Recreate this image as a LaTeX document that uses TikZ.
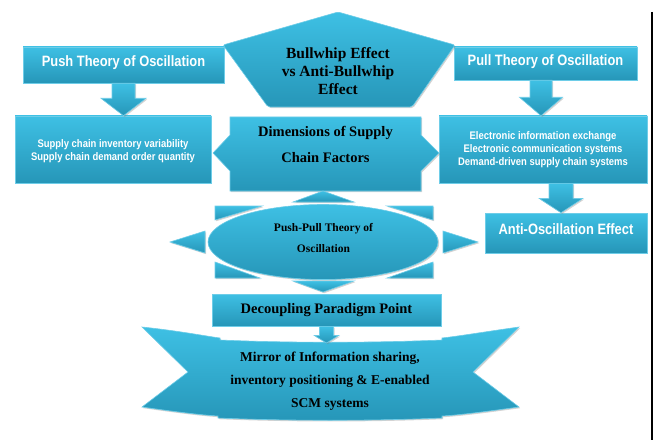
\documentclass[tikz,border=0pt]{standalone}
\usepackage{fontspec}
\setmainfont{Liberation Serif}
\newfontfamily\hsans[FakeStretch=0.86]{Liberation Sans}
\usetikzlibrary{calc,shadows,shapes.geometric}
\definecolor{ctop}{RGB}{62,192,228}
\definecolor{cbot}{RGB}{38,150,184}
\definecolor{cedge}{RGB}{110,205,232}
\tikzset{
 shp/.style={top color=ctop, bottom color=cbot, draw=cedge, line width=0.6pt,
   drop shadow={opacity=0.35,shadow xshift=1.2pt,shadow yshift=-1.2pt}},
 bx/.style={shp, rectangle, inner sep=0pt},
 wt/.style={text=white, font=\hsans\bfseries\fontsize{15}{17}\selectfont},
 ws/.style={text=white, font=\hsans\bfseries\fontsize{11}{13.3}\selectfont, align=center},
 bt/.style={text=black, align=center},
}
\newcommand{\blkarrow}[5]{\path[shp] ($(#1)+(-#3,0)$) -- ($(#1)+(#3,0)$) -- ($(#1)+(#3,#5)$) -- ($(#1)+(#4,#5)$) -- (#1 |- #2) -- ($(#1)+(-#4,#5)$) -- ($(#1)+(-#3,#5)$) -- cycle;}
\begin{document}
\begin{tikzpicture}[x=1pt,y=-1pt]
\useasboundingbox (0,0) rectangle (657,444);

% right black rule
\draw[line width=1.8pt] (652,12) -- (652,440);

% top row
\node[bx, minimum width=201pt, minimum height=36pt] (push) at (123.5,65) {};
\node[wt] (pusht) at (123.5,63) {Push Theory of Oscillation};
\node[bx, minimum width=183pt, minimum height=33pt] (pull) at (545.5,63.5) {};
\node[wt] (pullt) at (545.5,62) {Pull Theory of Oscillation};
\path[shp, rounded corners=2pt] (223,45) -- (338,12) -- (455,45) -- (412,107) -- (268,107) -- cycle;
\node[bt, font=\bfseries\fontsize{15.5}{18}\selectfont] (bw) at (338,71) {Bullwhip Effect\\vs Anti-Bullwhip\\Effect};

% second row
\node[bx, minimum width=196pt, minimum height=67pt] (lb) at (113,149.5) {};
\node[ws] (lbt) at (113,151) {Supply chain inventory variability\\Supply chain demand order quantity};
\node[bx, minimum width=208pt, minimum height=67pt, ws] (rb) at (543,149.5) {Electronic information exchange\\Electronic communication systems\\Demand-driven supply chain systems};
\path[shp] (230,117) -- (421,117) -- (421,135) -- (439,153) -- (421,171) -- (421,191) -- (230,191) -- (230,171) -- (213,153) -- (230,135) -- cycle;
\node[bt, font=\bfseries\fontsize{14.5}{26}\selectfont] (dim) at (325.5,144) {Dimensions of Supply\\Chain Factors};

% arrows from top row
\blkarrow{push.south}{lb.north}{11.5}{22.5}{15}
\coordinate (pa) at ($(pull.south)+(-4.5,0)$);
\blkarrow{pa}{rb.north}{11}{21.5}{17}

% anti-oscillation
\node[bx, minimum width=162pt, minimum height=40pt] (anti) at (566,233) {};
\node[wt] (antit) at (566,229.5) {Anti-Oscillation Effect};
\coordinate (ra) at ($(rb.south)+(18,0)$);
\blkarrow{ra}{anti.north}{12}{22}{15}

% radial triangles around ellipse
\path[shp] (293,202) -- (323,191) -- (354,202) -- cycle;
\path[shp] (293,281) -- (323,292) -- (354,281) -- cycle;
\path[shp] (205,231) -- (170,242) -- (205,253) -- cycle;
\path[shp] (443,231) -- (478,242) -- (443,253) -- cycle;
\path[shp] (215,206) -- (262,206) -- (215,220) -- cycle;
\path[shp] (433,206) -- (387,206) -- (433,220) -- cycle;
\path[shp] (215,262) -- (215,278) -- (260,278) -- cycle;
\path[shp] (433,262) -- (433,278) -- (387,278) -- cycle;
\node[shp, ellipse, minimum width=230pt, minimum height=75pt, inner sep=0pt] (pp) at (323,242) {};
\node[bt, font=\bfseries\fontsize{11.5}{21}\selectfont] (ppt) at (323.5,238.5) {Push-Pull Theory of\\Oscillation};

% decoupling
\node[bx, minimum width=229pt, minimum height=32pt, bt, font=\bfseries\fontsize{14.5}{17}\selectfont] (dec) at (326.5,310) {Decoupling Paradigm Point};

% banner
\path[shp] (142,327) .. controls (180,331) and (205,336) .. (220,338) -- (220,340)
  .. controls (290,343) and (370,343) .. (442,340) -- (442,338)
  .. controls (460,336) and (490,331) .. (519,327) -- (473,372) -- (519,407)
  .. controls (490,411) and (460,415) .. (442,416) -- (442,418)
  .. controls (370,421) and (290,421) .. (218,418) -- (218,416)
  .. controls (200,415) and (170,411) .. (142,407) -- (188,372) -- cycle;
\node[bt, font=\bfseries\fontsize{13.5}{23}\selectfont] (mir) at (330,381) {Mirror of Information sharing,\\inventory positioning \& E-enabled\\SCM systems};
\coordinate (mtop) at (326.5,343);
\blkarrow{dec.south}{mtop}{7}{12.5}{9}
\end{tikzpicture}
\end{document}
